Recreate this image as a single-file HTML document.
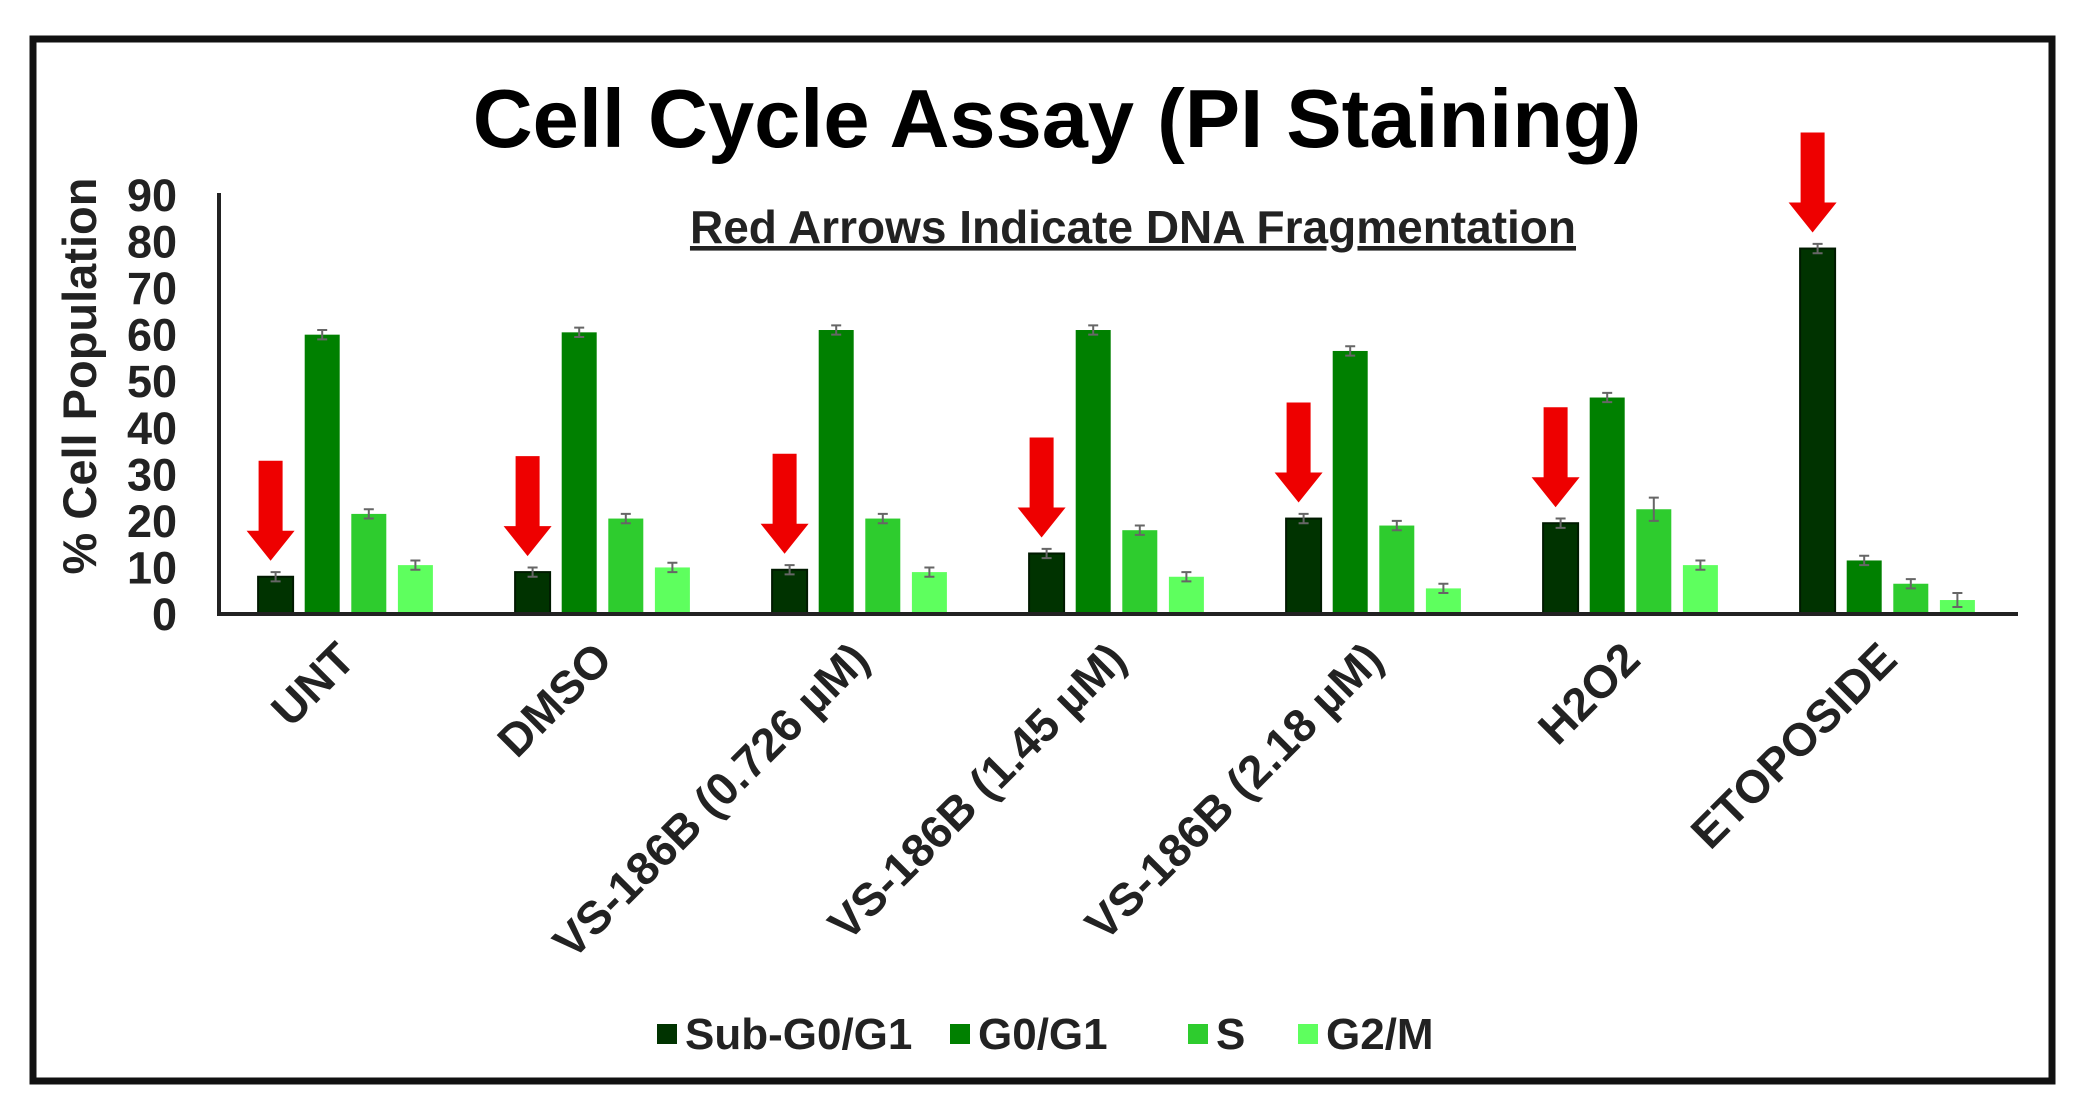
<!DOCTYPE html>
<html><head><meta charset="utf-8"><style>
html,body{margin:0;padding:0;background:#fff;}
svg{display:block;font-family:"Liberation Sans",Arial,sans-serif;}
</style></head><body>
<svg id="chart" width="2095" height="1120" viewBox="0 0 2095 1120">
<rect x="33" y="39" width="2019" height="1042" fill="#fff" stroke="#111" stroke-width="7"/>
<text x="1057" y="147" text-anchor="middle" font-size="83" font-weight="bold" fill="#000">Cell Cycle Assay (PI Staining)</text>
<text x="1133" y="243" text-anchor="middle" font-size="46" font-weight="bold" fill="#222" text-decoration="underline">Red Arrows Indicate DNA Fragmentation</text>
<text transform="translate(96,376) rotate(-90)" text-anchor="middle" font-size="47" font-weight="bold" fill="#222">% Cell Population</text>
<g id="plot"></g>
</svg>
<script>
const categories = ["UNT","DMSO","VS-186B (0.726 µM)","VS-186B (1.45 µM)","VS-186B (2.18 µM)","H2O2","ETOPOSIDE"];
const seriesNames = ["Sub-G0/G1","G0/G1","S","G2/M"];
const subG0 = [8, 9, 9.5, 13, 20.5, 19.5, 78.5];
const g0g1 = [60, 60.5, 61, 61, 56.5, 46.5, 11.5];
const sPhase = [21.5, 20.5, 20.5, 18, 19, 22.5, 6.5];
const g2m = [10.5, 10, 9, 8, 5.5, 10.5, 3];
const errSubG0 = [1, 1, 1, 1, 1, 1, 1];
const errG0 = [1, 1, 1, 1, 1, 1, 1];
const errS = [1, 1, 1, 1, 1, 2.5, 1];
const errG2m = [1, 1, 1, 1, 1, 1, 1.5];
const yTicks = [0,10,20,30,40,50,60,70,80,90];

const NS = "http://www.w3.org/2000/svg";
const plot = document.getElementById('plot');
const X0 = 219, X1 = 2018, Y0 = 614, Y90 = 195;
const yScale = v => Y0 - (v/90)*(Y0-Y90);
const band = (X1-X0)/categories.length;
const bandCenter = i => X0 + band*(i+0.5);
const colors = ["#003300","#008000","#2ecc2e","#5eff5e"];
const series = [subG0,g0g1,sPhase,g2m];
const errs = [errSubG0,errG0,errS,errG2m];
const barW = 35, barStep = 46.6;
function mk(tag, attrs, parent){const e=document.createElementNS(NS,tag);for(const k in attrs)e.setAttribute(k,attrs[k]);(parent||plot).appendChild(e);return e;}

yTicks.forEach(t=>{
  const e = mk('text',{x:177,y:yScale(t)+16,'text-anchor':'end','font-size':45,'font-weight':'bold',fill:'#222'});
  e.textContent = t;
  
  
});

categories.forEach((c,i)=>{
  const cx = bandCenter(i);
  series.forEach((s,j)=>{
    const x = cx - 2*barStep + j*barStep + (barStep-barW)/2 - 2;
    const r = mk('rect',{x:x,y:yScale(s[i]),width:barW,height:Y0-yScale(s[i]),fill:colors[j],stroke:j===0?'#001a00':'none','stroke-width':2});
    
    
    const ex = x + barW/2, e1 = yScale(s[i]+errs[j][i]), e2 = yScale(s[i]-errs[j][i]);
    const eb = mk('path',{d:`M${ex},${e1}V${e2}M${ex-5},${e1}H${ex+5}M${ex-5},${e2}H${ex+5}`,stroke:'#666','stroke-width':2,fill:'none'});
    
    
  });
  const ax = cx - 2*barStep + (barStep-barW)/2 - 2 + barW/2 - 5;
  const tip = yScale(subG0[i]) - 16;
  const a = mk('path',{d:`M${ax-12},${tip-100}H${ax+12}V${tip-30}H${ax+24}L${ax},${tip}L${ax-24},${tip-30}H${ax-12}Z`,fill:'#ee0000'});
  
  
  const lx = cx + 10, ly = 662;
  const t = mk('text',{x:lx,y:ly,'text-anchor':'end','font-size':46,'font-weight':'bold',fill:'#222',transform:`rotate(-45 ${lx} ${ly})`});
  t.textContent = c;
  
  
});

const ax1 = mk('path',{d:`M${X0},${Y90-2}V${Y0}H${X1}`,stroke:'#222','stroke-width':4,fill:'none'});



const legX = [657,950,1188,1298];
seriesNames.forEach((n,j)=>{
  const g = mk('g',{});
  
  
  mk('rect',{x:legX[j],y:1024,width:20,height:20,fill:colors[j]},g);
  const t = mk('text',{x:legX[j]+28,y:1049,'font-size':44,'font-weight':'bold',fill:'#222'},g);
  t.textContent = n;
});
</script>
</body></html>
